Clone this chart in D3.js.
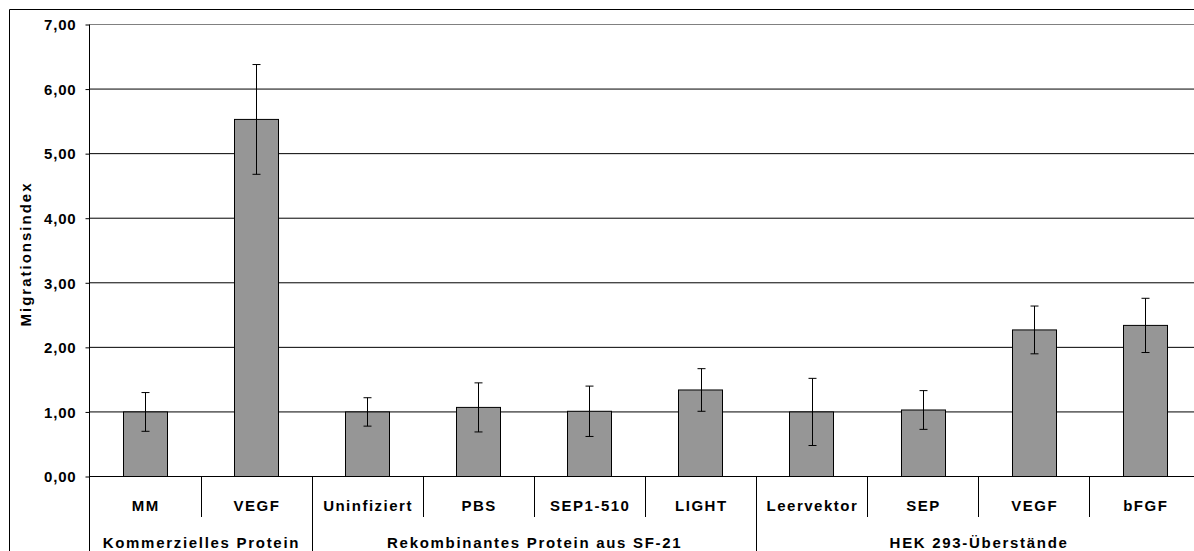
<!DOCTYPE html>
<html><head><meta charset="utf-8">
<script src="https://cdn.jsdelivr.net/npm/d3@7"></script>
<style>
body{margin:0;background:#fff}
svg{display:block}
text{font-family:"Liberation Sans",Arial,sans-serif;font-weight:bold;fill:#000}
</style>
</head><body><svg id="c" width="1194" height="551"></svg>
<script>
const categories = ["MM","VEGF","Uninfiziert","PBS","SEP1-510","LIGHT","Leervektor","SEP","VEGF","bFGF"];
const groups = ["Kommerzielles Protein","Kommerzielles Protein",
  "Rekombinantes Protein aus SF-21","Rekombinantes Protein aus SF-21","Rekombinantes Protein aus SF-21","Rekombinantes Protein aus SF-21",
  "HEK 293-Überstände","HEK 293-Überstände","HEK 293-Überstände","HEK 293-Überstände"];
const values = [1.00,5.53,1.00,1.07,1.01,1.34,1.00,1.03,2.27,2.34];
const errors = [0.30,0.85,0.22,0.38,0.39,0.33,0.52,0.30,0.37,0.42];
const yTicks = [0,1,2,3,4,5,6,7];
const yLabel = "Migrationsindex";

const svg = d3.select("#c");
const W = 1194, H = 551;
const x = d3.scaleBand().domain(d3.range(categories.length)).range([89.5,1200.5]).paddingInner(0).paddingOuter(0);
const y = d3.scaleLinear().domain([0,7]).range([476.5,24.5]);
const fmt = v => d3.format(".2f")(v).replace(".", ",");

// outer border
svg.append("line").attr("x1",9.5).attr("x2",9.5).attr("y1",9.5).attr("y2",H).attr("stroke","#000");
svg.append("line").attr("x1",9.5).attr("x2",W).attr("y1",9.5).attr("y2",9.5).attr("stroke","#000");

// gridlines
svg.append("g").selectAll("line").data(yTicks).join("line")
  .attr("x1",89.5).attr("x2",W).attr("y1",d=>y(d)).attr("y2",d=>y(d))
  .attr("stroke",d=>d===7?"#808080":"#000").attr("stroke-width",1);

// y axis
const ya = svg.append("g").attr("transform","translate(89.5,0)")
  .call(d3.axisLeft(y).tickValues(yTicks).tickFormat(fmt).tickSize(4).tickPadding(9));
ya.select(".domain").remove();
ya.selectAll(".tick line").attr("stroke","#000");
ya.selectAll(".tick text").style("font-size","15px").style("letter-spacing","0.8px").attr("dy","0.35em").attr("fill","#000");
svg.append("line").attr("x1",89.5).attr("x2",89.5).attr("y1",24.5).attr("y2",H).attr("stroke","#000");

// bars
const bw = x.bandwidth()*0.4;
svg.append("g").selectAll("rect").data(values).join("rect")
  .attr("x",(d,i)=>Math.round(x(i)+x.bandwidth()/2-bw/2)+0.5)
  .attr("y",d=>y(d))
  .attr("width",Math.round(bw))
  .attr("height",d=>y(0)-y(d))
  .attr("fill","#969696").attr("stroke","#000").attr("stroke-width",1);

// error bars
const eg = svg.append("g").attr("stroke","#000").attr("stroke-width",1);
values.forEach((v,i)=>{
  const cx = Math.round(x(i)+x.bandwidth()/2)+0.5;
  const t = y(v+errors[i]), b = y(v-errors[i]);
  eg.append("line").attr("x1",cx).attr("x2",cx).attr("y1",t).attr("y2",b);
  eg.append("line").attr("x1",cx-4).attr("x2",cx+4).attr("y1",t).attr("y2",t);
  eg.append("line").attr("x1",cx-4).attr("x2",cx+4).attr("y1",b).attr("y2",b);
});

// category separators
for(let i=1;i<categories.length;i++){
  const gb = groups[i]!==groups[i-1];
  const xx = Math.round(x(i))+0.5;
  svg.append("line").attr("x1",xx).attr("x2",xx).attr("y1",y(0)).attr("y2",gb?H:517).attr("stroke","#000");
}

// category labels
svg.append("g").selectAll("text").data(categories).join("text")
  .attr("x",(d,i)=>x(i)+x.bandwidth()/2+0.8).attr("y",510.5)
  .attr("text-anchor","middle").style("font-size","15px").style("letter-spacing","1.5px")
  .text(d=>d);

// group labels
const spans = [];
groups.forEach((g,i)=>{
  if(!spans.length || spans[spans.length-1].name!==g) spans.push({name:g,start:i,end:i});
  else spans[spans.length-1].end=i;
});
svg.append("g").selectAll("text").data(spans).join("text")
  .attr("x",d=>(x(d.start)+x(d.end)+x.bandwidth())/2+0.8).attr("y",547.5)
  .attr("text-anchor","middle").style("font-size","15px").style("letter-spacing","1.7px")
  .text(d=>d.name);

// y label
svg.append("text").attr("transform","translate(31,254) rotate(-90)")
  .attr("text-anchor","middle").style("font-size","15px").style("letter-spacing","2px")
  .text(yLabel);
</script></body></html>
